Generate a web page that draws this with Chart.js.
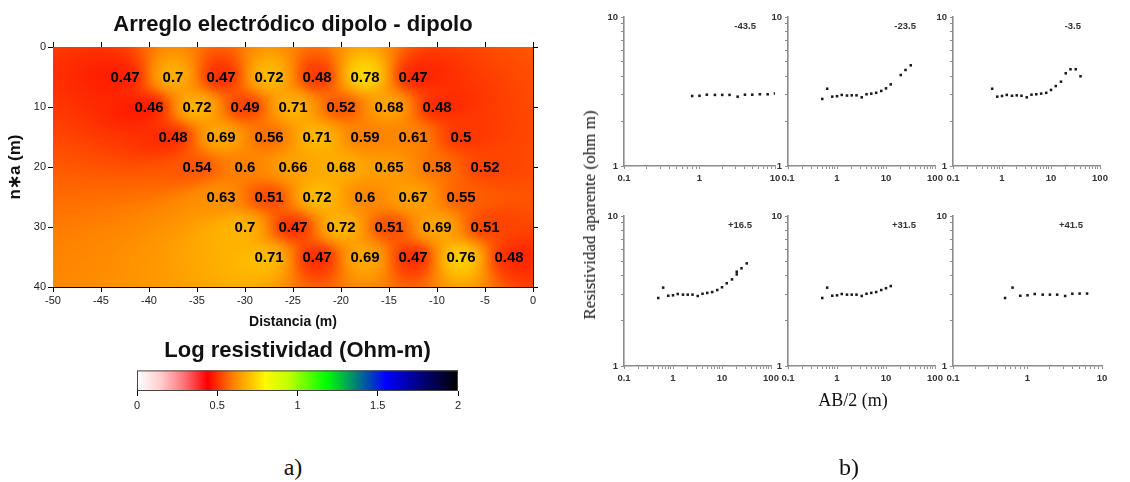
<!DOCTYPE html>
<html lang="es">
<head>
  <meta charset="UTF-8" />
  <title>Arreglo electródico dipolo - dipolo</title>
  <script src="https://cdn.jsdelivr.net/npm/chart.js"></script>
  <style>
    body { margin: 0; background: #fff; width: 1130px; height: 482px; position: relative; overflow: hidden; }
    canvas { position: absolute; }
    .txt { position: absolute; font-family: "Liberation Serif", "Times New Roman", serif; color: #111; white-space: nowrap; transform: translate(-50%, -50%); }
  </style>
</head>
<body>
  <canvas id="section" width="560" height="335" style="left:0;top:0"></canvas>
  <canvas id="colorbar" width="580" height="85" style="left:0;top:335px"></canvas>

  <canvas id="sev1" width="193" height="183" style="left:598px;top:7px"></canvas>
  <canvas id="sev2" width="189" height="183" style="left:762px;top:7px"></canvas>
  <canvas id="sev3" width="189" height="183" style="left:927px;top:7px"></canvas>
  <canvas id="sev4" width="189" height="184" style="left:598px;top:206px"></canvas>
  <canvas id="sev5" width="189" height="184" style="left:762px;top:206px"></canvas>
  <canvas id="sev6" width="191" height="184" style="left:927px;top:206px"></canvas>

  <div class="txt" style="left:590px;top:215px;font-size:17px;transform:translate(-50%,-50%) rotate(-90deg)">Resistividad aparente (ohm m)</div>
  <div class="txt" style="left:853px;top:400px;font-size:18px">AB/2 (m)</div>
  <div class="txt" style="left:293px;top:467px;font-size:24px">a)</div>
  <div class="txt" style="left:849px;top:467px;font-size:24px">b)</div>

  <script>
    const SANS = '"Liberation Sans", Arial, sans-serif';

    // --- a) pseudo-section, log resistivity per measuring point ---
    const depthLevels = [5, 10, 15, 20, 25, 30, 35];          // n*a (m)
    const rowFirstX = [-42.5, -40, -37.5, -35, -32.5, -30, -27.5]; // distancia (m)
    const stationStep = 5;
    const row5  = [0.47, 0.7, 0.47, 0.72, 0.48, 0.78, 0.47];
    const row10 = [0.46, 0.72, 0.49, 0.71, 0.52, 0.68, 0.48];
    const row15 = [0.48, 0.69, 0.56, 0.71, 0.59, 0.61, 0.5];
    const row20 = [0.54, 0.6, 0.66, 0.68, 0.65, 0.58, 0.52];
    const row25 = [0.63, 0.51, 0.72, 0.6, 0.67, 0.55];
    const row30 = [0.7, 0.47, 0.72, 0.51, 0.69, 0.51];
    const row35 = [0.71, 0.47, 0.69, 0.47, 0.76, 0.48];
    const rowValues = [row5, row10, row15, row20, row25, row30, row35];
    const colorbarTicks = [0, 0.5, 1, 1.5, 2];

    // --- b) sondeos: AB/2 (m) and apparent resistivity (ohm m) ---
    const sondeoNames = ['-43.5', '-23.5', '-3.5', '+16.5', '+31.5', '+41.5'];
    const sondeoXmax = [10, 100, 100, 100, 100, 10];
    const ab2_1 = [0.8, 1, 1.25, 1.6, 2, 2.5, 3.2, 4, 5, 6.3, 8, 10];
    const rho_1 = [2.95, 2.96, 3.01, 3.0, 3.0, 3.0, 2.92, 3.01, 3.01, 3.03, 3.03, 3.07];
    const ab2_2 = [0.5, 0.63, 0.8, 1, 1.25, 1.6, 2, 2.5, 3.2, 4, 5, 6.3, 8, 10, 12.5, 20, 25, 32];
    const rho_2 = [2.82, 3.3, 2.92, 2.94, 3.0, 2.97, 2.98, 2.98, 2.89, 3.03, 3.06, 3.1, 3.19, 3.32, 3.53, 4.08, 4.41, 4.74];
    const ab2_3 = [0.63, 0.8, 1, 1.25, 1.6, 2, 2.5, 3.2, 4, 5, 6.3, 8, 10, 12.5, 16, 20, 25, 32, 40];
    const rho_3 = [3.3, 2.92, 2.95, 3.0, 2.96, 2.98, 2.96, 2.89, 3.01, 3.03, 3.06, 3.1, 3.24, 3.44, 3.68, 4.19, 4.46, 4.46, 4.0];
    const ab2_4 = [0.5, 0.63, 0.8, 1, 1.25, 1.6, 2, 2.5, 3.2, 4, 5, 6.3, 8, 10, 12.5, 16, 20, 20, 25, 32];
    const rho_4 = [2.84, 3.33, 2.94, 2.96, 3.02, 2.99, 2.99, 2.99, 2.93, 3.03, 3.07, 3.11, 3.21, 3.35, 3.56, 3.78, 4.08, 4.25, 4.48, 4.83];
    const ab2_5 = [0.5, 0.63, 0.8, 1, 1.25, 1.6, 2, 2.5, 3.2, 4, 5, 6.3, 8, 10, 12.5];
    const rho_5 = [2.84, 3.33, 2.94, 2.96, 3.02, 2.99, 2.99, 2.99, 2.93, 3.03, 3.07, 3.11, 3.21, 3.3, 3.41];
    const ab2_6 = [0.5, 0.63, 0.8, 1, 1.25, 1.6, 2, 2.5, 3.2, 4, 5, 6.3];
    const rho_6 = [2.84, 3.33, 2.94, 2.96, 3.02, 2.99, 2.99, 2.99, 2.93, 3.03, 3.04, 3.04];
    const sondeoX = [ab2_1, ab2_2, ab2_3, ab2_4, ab2_5, ab2_6];
    const sondeoRho = [rho_1, rho_2, rho_3, rho_4, rho_5, rho_6];

    // build point list for the section
    const sectionPoints = [];
    rowValues.forEach((row, r) => {
      row.forEach((v, i) => {
        sectionPoints.push({ x: rowFirstX[r] + i * stationStep, y: depthLevels[r], v: v });
      });
    });

    // colour scale like the original colour bar (white-red-yellow-green-blue-black)
    const stops = [
      [0, 255, 255, 255], [0.15, 255, 205, 205], [0.3, 255, 110, 115], [0.44, 255, 0, 0],
      [0.6, 255, 130, 0], [0.8, 255, 250, 0], [0.95, 190, 255, 0], [1.18, 0, 255, 0],
      [1.35, 0, 140, 110], [1.55, 0, 0, 255], [1.8, 0, 0, 110], [2, 0, 0, 0]
    ];
    function colorAt(v) {
      if (v <= stops[0][0]) return stops[0].slice(1);
      for (let k = 1; k < stops.length; k++) {
        if (v <= stops[k][0]) {
          const a = stops[k - 1], b = stops[k];
          const t = (v - a[0]) / (b[0] - a[0]);
          return [a[1] + t * (b[1] - a[1]), a[2] + t * (b[2] - a[2]), a[3] + t * (b[3] - a[3])];
        }
      }
      return stops[stops.length - 1].slice(1);
    }

    // smooth inverse distance interpolation between the measured points
    function fieldAt(x, y) {
      let sw = 0, sv = 0;
      for (const p of sectionPoints) {
        const dx = x - p.x, dy = y - p.y;
        const w = 1 / Math.pow(dx * dx + dy * dy + 10, 2.4);
        sw += w; sv += w * p.v;
      }
      return sv / sw;
    }

    const fieldPlugin = {
      id: 'field',
      beforeDatasetsDraw(chart) {
        const { ctx, chartArea: a, scales } = chart;
        const w = Math.round(a.right - a.left), h = Math.round(a.bottom - a.top);
        const img = ctx.createImageData(w, h);
        for (let j = 0; j < h; j++) {
          const dy = scales.y.getValueForPixel(a.top + j + 0.5);
          for (let i = 0; i < w; i++) {
            const dx = scales.x.getValueForPixel(a.left + i + 0.5);
            const c = colorAt(fieldAt(dx, dy));
            const o = (j * w + i) * 4;
            img.data[o] = c[0]; img.data[o + 1] = c[1]; img.data[o + 2] = c[2]; img.data[o + 3] = 255;
          }
        }
        ctx.putImageData(img, Math.round(a.left), Math.round(a.top));
      },
      afterDatasetsDraw(chart) {
        const { ctx } = chart;
        const meta = chart.getDatasetMeta(0);
        ctx.save();
        ctx.font = 'bold 15px ' + SANS;
        ctx.fillStyle = '#000';
        ctx.textAlign = 'center';
        ctx.textBaseline = 'middle';
        meta.data.forEach((el, i) => {
          ctx.fillText(String(sectionPoints[i].v), el.x, el.y + 1);
        });
        ctx.restore();
      }
    };

    const edgeGrid = { drawOnChartArea: false, tickLength: 5, color: '#000' };
    const edgeBorder = { color: '#000', width: 1 };

    new Chart(document.getElementById('section'), {
      type: 'scatter',
      data: { datasets: [{ data: sectionPoints.map(p => ({ x: p.x, y: p.y })), pointRadius: 0, pointHoverRadius: 0 }] },
      options: {
        responsive: false,
        animation: false,
        layout: { padding: 0 },
        plugins: { legend: { display: false }, tooltip: { enabled: false } },
        scales: {
          x: {
            type: 'linear', position: 'bottom', min: -50, max: 0, z: 1,
            ticks: { stepSize: 5, color: '#222', font: { family: SANS, size: 11 }, padding: 2, maxRotation: 0 },
            grid: edgeGrid, border: edgeBorder,
            title: { display: true, text: 'Distancia (m)', color: '#111', font: { family: SANS, size: 14, weight: 'bold' }, padding: { top: 0, bottom: 4 } },
            afterFit: s => { s.height = 48; }
          },
          xTop: {
            type: 'linear', position: 'top', min: -50, max: 0, z: 1,
            ticks: { stepSize: 5, display: false },
            grid: edgeGrid, border: edgeBorder,
            title: { display: true, text: 'Arreglo electródico dipolo - dipolo', color: '#111', font: { family: SANS, size: 22, weight: 'bold' }, padding: { top: 12, bottom: 0 } },
            afterFit: s => { s.height = 47; }
          },
          y: {
            type: 'linear', position: 'left', reverse: true, min: 0, max: 40, z: 1,
            ticks: { stepSize: 10, color: '#222', font: { family: SANS, size: 11 }, padding: 2 },
            grid: edgeGrid, border: edgeBorder,
            title: { display: true, text: 'n∗a (m)', color: '#111', font: { family: SANS, size: 17, weight: 'bold' }, padding: { top: 5, bottom: 0 } },
            afterFit: s => { s.width = 53; }
          },
          yRight: {
            type: 'linear', position: 'right', reverse: true, min: 0, max: 40, z: 1,
            ticks: { stepSize: 10, display: false },
            grid: edgeGrid, border: edgeBorder,
            afterFit: s => { s.width = 27; }
          }
        }
      },
      plugins: [fieldPlugin]
    });

    // colour bar
    const barPlugin = {
      id: 'bar',
      beforeDatasetsDraw(chart) {
        const { ctx, chartArea: a, scales } = chart;
        for (let px = Math.round(a.left); px < Math.round(a.right); px++) {
          const c = colorAt(scales.x.getValueForPixel(px + 0.5));
          ctx.fillStyle = `rgb(${c[0] | 0},${c[1] | 0},${c[2] | 0})`;
          ctx.fillRect(px, a.top, 1, a.bottom - a.top);
        }
        ctx.strokeStyle = '#444';
        ctx.lineWidth = 1;
        ctx.strokeRect(a.left + 0.5, a.top + 0.5, a.right - a.left - 1, a.bottom - a.top - 1);
      }
    };

    new Chart(document.getElementById('colorbar'), {
      type: 'scatter',
      data: { datasets: [{ data: [], pointRadius: 0 }] },
      options: {
        responsive: false,
        animation: false,
        layout: { padding: { left: 137, right: 122, top: 0, bottom: 0 } },
        plugins: {
          legend: { display: false }, tooltip: { enabled: false },
          title: { display: true, text: 'Log resistividad (Ohm-m)', color: '#111', font: { family: SANS, size: 22, weight: 'bold' }, padding: { top: 3, bottom: 6 } }
        },
        scales: {
          x: {
            type: 'linear', min: colorbarTicks[0], max: colorbarTicks[colorbarTicks.length - 1], z: 1,
            afterBuildTicks: s => { s.ticks = colorbarTicks.map(v => ({ value: v })); },
            ticks: { color: '#222', font: { family: SANS, size: 11 }, padding: 3, maxRotation: 0, callback: v => String(v) },
            grid: { drawOnChartArea: false, tickLength: 5, color: '#000' },
            border: { display: false },
            afterFit: s => { s.height = 29; }
          },
          y: { display: false, min: 0, max: 1 }
        }
      },
      plugins: [barPlugin]
    });

    // small log-log sounding panels
    function isDecade(v) {
      const l = Math.log10(v);
      return Math.abs(l - Math.round(l)) < 1e-6;
    }
    function logTicks(min, max) {
      const out = [];
      for (let e = Math.round(Math.log10(min)); e < Math.round(Math.log10(max)); e++) {
        for (let m = 1; m < 10; m++) out.push(Number((m * Math.pow(10, e)).toPrecision(3)));
      }
      out.push(max);
      return out;
    }

    const panelGray = '#8c8c8c';
    function logAxis(min, max, pos) {
      return {
        type: 'logarithmic', position: pos, min: min, max: max,
        afterBuildTicks: s => { s.ticks = logTicks(min, max).map(v => ({ value: v })); },
        ticks: {
          autoSkip: false, maxRotation: 0, color: '#333',
          font: { family: SANS, size: 9.5, weight: 'bold' },
          padding: pos === 'left' ? 3 : 4,
          callback: v => isDecade(v) ? String(v) : ''
        },
        grid: { drawOnChartArea: false, tickLength: 3, color: panelGray, lineWidth: 1 },
        border: { color: panelGray, width: 1.6 }
      };
    }

    const namePlugin = {
      id: 'sondeoName',
      afterDraw(chart) {
        const { ctx, chartArea: a } = chart;
        ctx.save();
        ctx.font = 'bold 9.5px ' + SANS;
        ctx.fillStyle = '#333';
        ctx.textAlign = 'right';
        ctx.textBaseline = 'middle';
        ctx.fillText(chart.options.plugins.sondeoName.text, a.right - 19, a.top + 9);
        ctx.restore();
      }
    };

    sondeoNames.forEach((name, k) => {
      const xAxis = logAxis(0.1, sondeoXmax[k], 'bottom');
      xAxis.afterFit = s => { s.height = 24; };
      const yAxis = logAxis(1, 10, 'left');
      yAxis.afterFit = s => { s.width = 26; };
      new Chart(document.getElementById('sev' + (k + 1)), {
        type: 'scatter',
        data: {
          datasets: [{
            data: sondeoX[k].map((x, i) => ({ x: x, y: sondeoRho[k][i] })),
            pointStyle: 'rect', pointRadius: 1.8, pointHoverRadius: 1.8,
            backgroundColor: '#1a1a1a', borderWidth: 0
          }]
        },
        options: {
          responsive: false,
          animation: false,
          layout: { padding: { top: 10, right: 16, left: 0, bottom: 0 } },
          plugins: { legend: { display: false }, tooltip: { enabled: false }, sondeoName: { text: name } },
          scales: { x: xAxis, y: yAxis }
        },
        plugins: [namePlugin]
      });
    });
  </script>
</body>
</html>
